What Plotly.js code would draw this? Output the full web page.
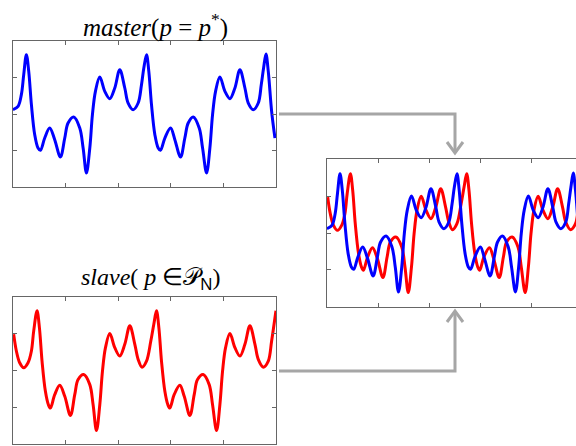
<!DOCTYPE html>
<html>
<head>
<meta charset="utf-8">
<script src="https://cdn.plot.ly/plotly-3.0.1.min.js"></script>
<style>
html,body{margin:0;padding:0;overflow:hidden;background:#fff;}
#chart{width:576px;height:446px;}
</style>
</head>
<body>
<div id="chart"></div>
<script>
// master signal (blue)
var masterX = [0.0, 0.096, 0.159, 0.204, 0.254, 0.299, 0.350, 0.413, 0.476, 0.521,
  0.603, 0.698, 0.793, 0.901, 0.984, 1.047, 1.155, 1.269, 1.333, 1.396,
  1.460, 1.510, 1.567, 1.650, 1.745, 1.840, 1.935, 2.030, 2.125, 2.189,
  2.284, 2.379, 2.443, 2.487, 2.538, 2.582, 2.633, 2.697, 2.760, 2.804,
  2.887, 2.995, 3.077, 3.185, 3.267, 3.331, 3.426, 3.540, 3.604, 3.680,
  3.743, 3.794, 3.851, 3.933, 4.029, 4.124, 4.219, 4.314, 4.409, 4.473,
  4.568, 4.663, 4.720, 4.764, 4.809, 4.853, 4.917, 4.980];
var masterY = [0.119, 0.210, 0.530, 1.078, 1.626, 1.169, 0.256, -0.566, -0.932, -0.995,
  -0.658, -0.384, -0.703, -1.178, -0.658, -0.247, -0.082, -0.384, -0.932, -1.616,
  -0.932, -0.018, 0.621, 1.014, 0.621, 0.420, 0.712, 1.215, 0.712, 0.301,
  0.119, 0.301, 0.804, 1.260, 1.626, 1.169, 0.256, -0.566, -0.932, -0.995,
  -0.658, -0.384, -0.703, -1.178, -0.658, -0.247, -0.082, -0.384, -0.932, -1.616,
  -0.932, -0.018, 0.621, 1.014, 0.621, 0.420, 0.712, 1.215, 0.712, 0.301,
  0.119, 0.301, 0.804, 1.260, 1.644, 1.169, 0.073, -0.658];

// slave signal (red)
var slaveX = [0.013, 0.064, 0.127, 0.204, 0.286, 0.350, 0.394, 0.457, 0.502, 0.552,
  0.616, 0.673, 0.711, 0.793, 0.889, 0.984, 1.092, 1.174, 1.238, 1.345,
  1.460, 1.523, 1.587, 1.650, 1.701, 1.758, 1.840, 1.935, 2.030, 2.125,
  2.221, 2.316, 2.379, 2.452, 2.538, 2.620, 2.677, 2.728, 2.773, 2.823,
  2.887, 2.944, 2.982, 3.064, 3.172, 3.255, 3.363, 3.445, 3.508, 3.616,
  3.730, 3.794, 3.870, 3.933, 3.984, 4.041, 4.124, 4.219, 4.314, 4.409,
  4.504, 4.600, 4.663, 4.758, 4.853, 4.917, 4.999];
var slaveY = [0.986, 0.530, 0.210, 0.073, 0.210, 0.530, 1.078, 1.626, 1.169, 0.256,
  -0.566, -0.932, -1.023, -0.658, -0.402, -0.703, -1.224, -0.658, -0.247, -0.110,
  -0.384, -0.932, -1.635, -0.932, -0.018, 0.621, 1.005, 0.621, 0.393, 0.712,
  1.215, 0.712, 0.301, 0.091, 0.256, 0.804, 1.260, 1.626, 1.169, 0.256,
  -0.566, -0.932, -1.023, -0.658, -0.402, -0.703, -1.224, -0.658, -0.247, -0.110,
  -0.384, -0.932, -1.635, -0.932, -0.018, 0.621, 1.005, 0.621, 0.393, 0.712,
  1.215, 0.712, 0.301, 0.091, 0.256, 0.804, 1.626];

var xTicks = [1, 2, 3, 4];
var yTicks = [-1, 0, 1];
var masterTitle = '<i>master</i>(<i>p</i> = <i>p</i><sup>*</sup>)';
var slaveTitle = '<i>slave</i>( <i>p</i> \u2208\uD835\uDCAB<sub><span style="font-family:Liberation Sans">N</span></sub>)';

var W = 576, H = 446;
function fx(px){ return px / W; }
function fy(py){ return 1 - py / H; }

var BLUE = '#0000ff', RED = '#ff0000', ARROW = '#a6a6a6', AX = '#666666';

function lineTrace(x, y, color, xa, ya){
  return {x:x, y:y, type:'scatter', mode:'lines', xaxis:xa, yaxis:ya,
    line:{color:color, width:3, shape:'spline', smoothing:1}, hoverinfo:'skip', showlegend:false};
}

var data = [
  lineTrace(masterX, masterY, BLUE, 'x', 'y'),
  lineTrace(slaveX, slaveY, RED, 'x2', 'y2'),
  lineTrace(slaveX, slaveY, RED, 'x3', 'y3'),
  lineTrace(masterX, masterY, BLUE, 'x3', 'y3')
];

function xax(dom, range, mirror, anchor){
  return {domain:dom, range:range, anchor:anchor, showline:true, linecolor:AX, linewidth:1,
    mirror:mirror, ticks:'inside', ticklen:4, tickcolor:AX, tickvals:xTicks,
    showticklabels:false, showgrid:false, zeroline:false, fixedrange:true};
}
function yax(dom, range, mirror, anchor){
  return {domain:dom, range:range, anchor:anchor, showline:true, linecolor:AX, linewidth:1,
    mirror:mirror, ticks:'inside', ticklen:4, tickcolor:AX, tickvals:yTicks,
    showticklabels:false, showgrid:false, zeroline:false, fixedrange:true};
}

var arrowPaths = [
  'M ' + fx(279) + ' ' + fy(114) + ' L ' + fx(455) + ' ' + fy(114) + ' L ' + fx(455) + ' ' + fy(152),
  'M ' + fx(447) + ' ' + fy(142) + ' L ' + fx(455) + ' ' + fy(153) + ' L ' + fx(463) + ' ' + fy(142),
  'M ' + fx(279) + ' ' + fy(371) + ' L ' + fx(455) + ' ' + fy(371) + ' L ' + fx(455) + ' ' + fy(312),
  'M ' + fx(447) + ' ' + fy(322) + ' L ' + fx(455) + ' ' + fy(311) + ' L ' + fx(463) + ' ' + fy(322)
];

var layout = {
  width:W, height:H,
  margin:{l:0, r:0, t:0, b:0, pad:0},
  paper_bgcolor:'#ffffff', plot_bgcolor:'#ffffff',
  showlegend:false,
  xaxis: xax([fx(13), fx(276)], [0, 5], 'ticks', 'y'),
  yaxis: yax([fy(187), fy(41)], [-2, 2], 'ticks', 'x'),
  xaxis2: xax([fx(13), fx(276)], [0, 5], 'ticks', 'y2'),
  yaxis2: yax([fy(444), fy(297)], [-2, 2], 'ticks', 'x2'),
  xaxis3: xax([fx(327), 1], [0, 4.863], 'ticks', 'y3'),
  yaxis3: yax([fy(307), fy(159)], [-2.03, 2.03], false, 'x3'),
  shapes: arrowPaths.map(function(p){
    return {type:'path', xref:'paper', yref:'paper', path:p,
      line:{color:ARROW, width:3}, layer:'above'};
  }),
  annotations: [
    {text:masterTitle, xref:'paper', yref:'paper', x:fx(155), y:fy(26),
     xanchor:'center', yanchor:'middle', showarrow:false,
     font:{family:'Liberation Serif, Times New Roman, serif', size:25, color:'#000'}},
    {text:slaveTitle, xref:'paper', yref:'paper', x:fx(150), y:fy(279),
     xanchor:'center', yanchor:'middle', showarrow:false,
     font:{family:'Liberation Serif, Times New Roman, serif', size:24, color:'#000'}}
  ]
};

Plotly.newPlot('chart', data, layout, {displayModeBar:false, staticPlot:true});
</script>
</body>
</html>
